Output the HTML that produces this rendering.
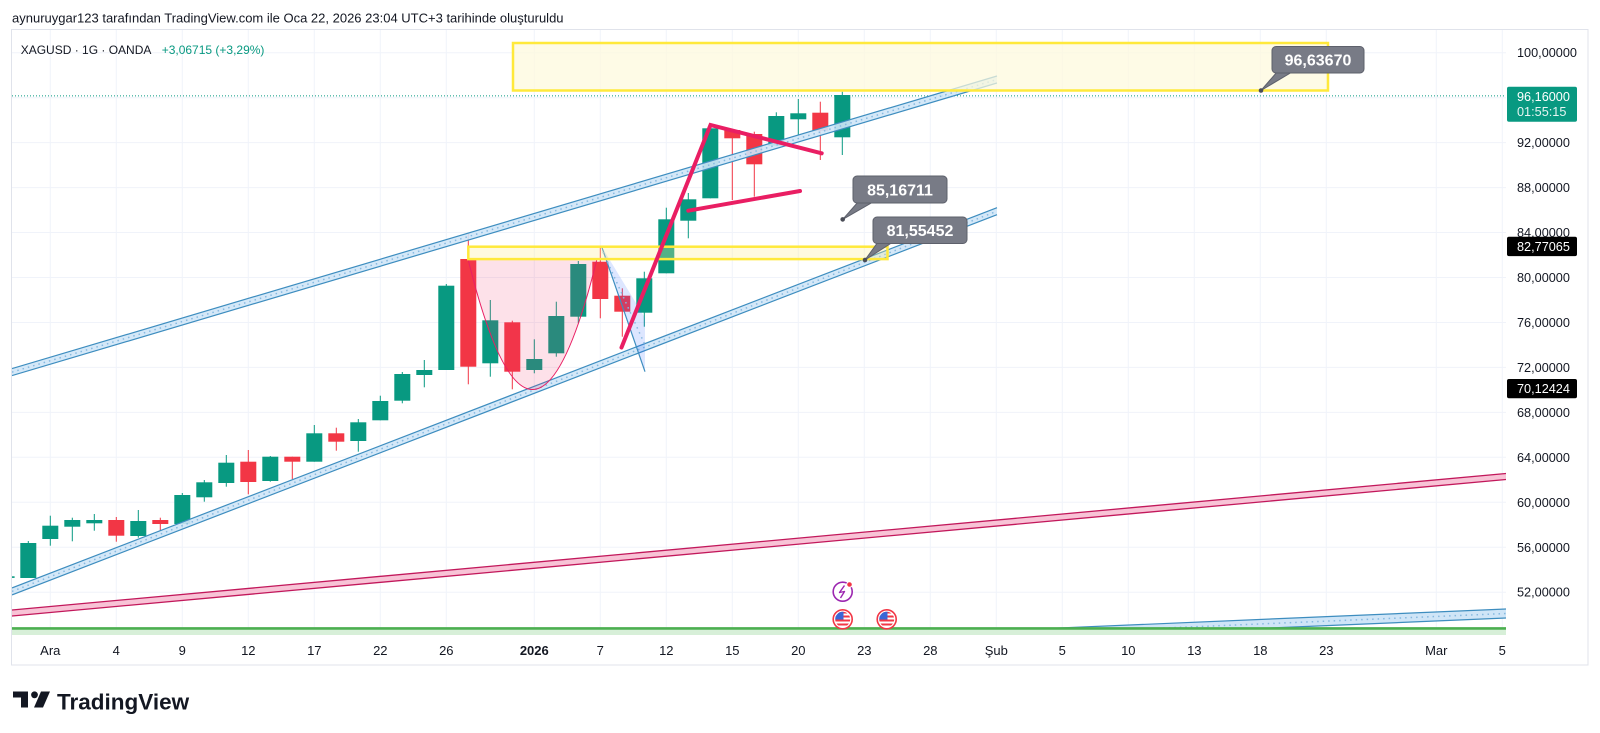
<!DOCTYPE html>
<html><head><meta charset="utf-8"><style>
html,body{margin:0;padding:0;background:#fff;}
svg{display:block;}
text{font-family:"Liberation Sans",sans-serif;}
</style></head><body>
<svg width="1600" height="733" viewBox="0 0 1600 733" xmlns="http://www.w3.org/2000/svg">
<defs>
<clipPath id="plot"><rect x="12" y="30" width="1494" height="605"/></clipPath>
<clipPath id="c1"><circle cx="842.7" cy="619.3" r="7.5"/></clipPath>
<clipPath id="c2"><circle cx="886.7" cy="619.3" r="7.5"/></clipPath>
</defs>
<rect width="1600" height="733" fill="#fff"/>
<text x="12" y="22.7" font-size="13" fill="#131722">aynuruygar123 tarafından TradingView.com ile Oca 22, 2026 23:04 UTC+3 tarihinde oluşturuldu</text>
<!-- frame -->
<rect x="11.5" y="29.5" width="1576.5" height="635.5" fill="none" stroke="#e0e3eb" stroke-width="1"/>
<g clip-path="url(#plot)">
<!-- grid -->
<g stroke="#f0f3fa" stroke-width="1">
<line x1="50.3" y1="30" x2="50.3" y2="635"/><line x1="116.3" y1="30" x2="116.3" y2="635"/><line x1="182.3" y1="30" x2="182.3" y2="635"/><line x1="248.3" y1="30" x2="248.3" y2="635"/><line x1="314.3" y1="30" x2="314.3" y2="635"/><line x1="380.3" y1="30" x2="380.3" y2="635"/><line x1="446.3" y1="30" x2="446.3" y2="635"/><line x1="534.3" y1="30" x2="534.3" y2="635"/><line x1="600.3" y1="30" x2="600.3" y2="635"/><line x1="666.3" y1="30" x2="666.3" y2="635"/><line x1="732.3" y1="30" x2="732.3" y2="635"/><line x1="798.3" y1="30" x2="798.3" y2="635"/><line x1="864.3" y1="30" x2="864.3" y2="635"/><line x1="930.3" y1="30" x2="930.3" y2="635"/><line x1="996.3" y1="30" x2="996.3" y2="635"/><line x1="1062.3" y1="30" x2="1062.3" y2="635"/><line x1="1128.3" y1="30" x2="1128.3" y2="635"/><line x1="1194.3" y1="30" x2="1194.3" y2="635"/><line x1="1260.3" y1="30" x2="1260.3" y2="635"/><line x1="1326.3" y1="30" x2="1326.3" y2="635"/><line x1="1436.3" y1="30" x2="1436.3" y2="635"/><line x1="1502.3" y1="30" x2="1502.3" y2="635"/>
<line x1="12" y1="52.7" x2="1506" y2="52.7"/><line x1="12" y1="97.7" x2="1506" y2="97.7"/><line x1="12" y1="142.6" x2="1506" y2="142.6"/><line x1="12" y1="187.6" x2="1506" y2="187.6"/><line x1="12" y1="232.5" x2="1506" y2="232.5"/><line x1="12" y1="277.5" x2="1506" y2="277.5"/><line x1="12" y1="322.5" x2="1506" y2="322.5"/><line x1="12" y1="367.4" x2="1506" y2="367.4"/><line x1="12" y1="412.4" x2="1506" y2="412.4"/><line x1="12" y1="457.3" x2="1506" y2="457.3"/><line x1="12" y1="502.3" x2="1506" y2="502.3"/><line x1="12" y1="547.3" x2="1506" y2="547.3"/><line x1="12" y1="592.2" x2="1506" y2="592.2"/>
</g>
<!-- bottom right blue band -->
<polygon points="960,632.2 1506,609 1506,618 960,641.2" fill="#cfe5f7"/>
<line x1="960" y1="632.2" x2="1506" y2="609" stroke="#3d8dbf" stroke-width="1.2"/>
<line x1="960" y1="641.2" x2="1506" y2="618" stroke="#3d8dbf" stroke-width="1.2"/>
<line x1="960" y1="636.7" x2="1506" y2="613.5" stroke="#86b9e0" stroke-width="1.5" stroke-dasharray="1.5 4"/>
<!-- green line -->
<rect x="12" y="629" width="1494" height="6" fill="#d7efd8"/>
<line x1="12" y1="628.4" x2="1506" y2="628.4" stroke="#4caf50" stroke-width="2.6"/>
<!-- pink band -->
<polygon points="12,610 1506,473.5 1506,479.5 12,616" fill="#f8c3d6"/>
<line x1="12" y1="610" x2="1506" y2="473.5" stroke="#c2185b" stroke-width="1.3"/>
<line x1="12" y1="616" x2="1506" y2="479.5" stroke="#c2185b" stroke-width="1.3"/>
<!-- candles -->
<rect x="12" y="576.3" width="2.6" height="1.6" fill="#089981"/>
<g fill="#089981">
<rect x="27.8" y="541" width="1" height="37"/><rect x="20.3" y="543" width="16" height="35"/>
<rect x="49.8" y="515.7" width="1" height="30"/><rect x="42.3" y="525.7" width="16" height="13.3"/>
<rect x="71.8" y="517.7" width="1" height="23.6"/><rect x="64.3" y="520" width="16" height="6.7"/>
<rect x="93.8" y="514" width="1" height="16.7"/><rect x="86.3" y="520" width="16" height="3.3"/>
<rect x="137.8" y="510" width="1" height="27.7"/><rect x="130.3" y="521" width="16" height="15"/>
<rect x="181.8" y="493" width="1" height="36"/><rect x="174.3" y="495" width="16" height="29"/>
<rect x="203.8" y="480" width="1" height="21.7"/><rect x="196.3" y="482.3" width="16" height="15"/>
<rect x="225.8" y="455" width="1" height="31.7"/><rect x="218.3" y="462.7" width="16" height="20.3"/>
<rect x="269.8" y="456" width="1" height="25.7"/><rect x="262.3" y="456.7" width="16" height="24.3"/>
<rect x="313.8" y="425" width="1" height="36.7"/><rect x="306.3" y="433.3" width="16" height="28.4"/>
<rect x="357.8" y="419" width="1" height="32.7"/><rect x="350.3" y="422.3" width="16" height="18.7"/>
<rect x="379.8" y="395.7" width="1" height="24.6"/><rect x="372.3" y="401" width="16" height="19.3"/>
<rect x="401.8" y="372" width="1" height="31.3"/><rect x="394.3" y="374" width="16" height="26.7"/>
<rect x="423.8" y="360" width="1" height="27.3"/><rect x="416.3" y="370" width="16" height="5"/>
<rect x="445.8" y="284" width="1" height="86"/><rect x="438.3" y="285.7" width="16" height="84.3"/>
<rect x="489.8" y="300" width="1" height="76.7"/><rect x="482.3" y="320.3" width="16" height="43"/>
<rect x="533.8" y="339.3" width="1" height="34"/><rect x="526.3" y="359" width="16" height="11"/>
<rect x="555.8" y="301.7" width="1" height="55"/><rect x="548.3" y="316" width="16" height="37.3"/>
<rect x="577.8" y="261" width="1" height="62.3"/><rect x="570.3" y="264" width="16" height="52.7"/>
<rect x="643.8" y="271.7" width="1" height="55"/><rect x="636.3" y="278.3" width="16" height="34.4"/>
<rect x="665.8" y="207.7" width="1" height="65.6"/><rect x="658.3" y="219.3" width="16" height="54"/>
<rect x="687.8" y="193" width="1" height="45.3"/><rect x="680.3" y="199.3" width="16" height="21.4"/>
<rect x="709.8" y="126.7" width="1" height="71.6"/><rect x="702.3" y="128.3" width="16" height="70"/>
<rect x="775.8" y="112.3" width="1" height="33.4"/><rect x="768.3" y="116" width="16" height="29.7"/>
<rect x="797.8" y="99" width="1" height="36"/><rect x="790.3" y="113.3" width="16" height="6"/>
<rect x="841.8" y="91.7" width="1" height="63.3"/><rect x="834.3" y="95" width="16" height="42.3"/>
</g>
<g fill="#f23645">
<rect x="115.8" y="517" width="1" height="24.7"/><rect x="108.3" y="520" width="16" height="15.7"/>
<rect x="159.8" y="517.7" width="1" height="13"/><rect x="152.3" y="520" width="16" height="4"/>
<rect x="247.8" y="450" width="1" height="44.3"/><rect x="240.3" y="461.7" width="16" height="20.3"/>
<rect x="291.8" y="456.7" width="1" height="22.3"/><rect x="284.3" y="456.7" width="16" height="5"/>
<rect x="335.8" y="427.7" width="1" height="23"/><rect x="328.3" y="433.3" width="16" height="8.4"/>
<rect x="467.8" y="233.3" width="1" height="151"/><rect x="460.3" y="259" width="16" height="107.7"/>
<rect x="511.8" y="320.7" width="1" height="68.6"/><rect x="504.3" y="322.3" width="16" height="49.4"/>
<rect x="599.8" y="246.7" width="1" height="71.6"/><rect x="592.3" y="261.7" width="16" height="37.3"/>
<rect x="621.8" y="288.3" width="1" height="48.4"/><rect x="614.3" y="295.7" width="16" height="16"/>
<rect x="731.8" y="130" width="1" height="70"/><rect x="724.3" y="130" width="16" height="8.3"/>
<rect x="753.8" y="131.7" width="1" height="65"/><rect x="746.3" y="134" width="16" height="30.3"/>
<rect x="819.8" y="101.7" width="1" height="58.3"/><rect x="812.3" y="112.7" width="16" height="18"/>
</g>
<!-- current price line -->
<line x1="12" y1="95.9" x2="1506" y2="95.9" stroke="#089981" stroke-width="1" stroke-dasharray="1 2"/>
<!-- upper channel band -->
<polygon points="12,368.6 997,76 997,83 12,375.6" fill="#cfe5f7" fill-opacity="0.9"/>
<line x1="12" y1="368.6" x2="997" y2="76" stroke="#3d8dbf" stroke-width="1.2"/>
<line x1="12" y1="375.6" x2="997" y2="83" stroke="#3d8dbf" stroke-width="1.2"/>
<line x1="12" y1="372.1" x2="997" y2="79.5" stroke="#86b9e0" stroke-width="1.5" stroke-dasharray="1.5 4"/>
<!-- lower channel band -->
<polygon points="12,587.9 997,207.7 997,214.7 12,594.9" fill="#cfe5f7" fill-opacity="0.9"/>
<line x1="12" y1="587.9" x2="997" y2="207.7" stroke="#3d8dbf" stroke-width="1.2"/>
<line x1="12" y1="594.9" x2="997" y2="214.7" stroke="#3d8dbf" stroke-width="1.2"/>
<line x1="12" y1="591.4" x2="997" y2="211.2" stroke="#86b9e0" stroke-width="1.5" stroke-dasharray="1.5 4"/>
<!-- cup -->
<path d="M468,259 Q532.5,520 597,259 Z" fill="rgba(242,54,110,0.15)"/>
<path d="M468,259 Q532.5,520 597,259" fill="none" stroke="#e91e63" stroke-width="1"/>
<!-- blue flag -->
<polygon points="601.7,246.7 645,371.7 645,318" fill="rgba(41,98,255,0.16)"/>
<line x1="601.7" y1="246.7" x2="645" y2="371.7" stroke="#3d8dbf" stroke-width="1.2"/>
<line x1="603" y1="252" x2="645" y2="345" stroke="#86b9e0" stroke-width="1.5" stroke-dasharray="1.5 4"/>
<!-- yellow boxes -->
<rect x="468.3" y="246.7" width="419.2" height="12.4" fill="rgba(255,240,150,0.3)" stroke="#ffe93b" stroke-width="2.5"/>
<rect x="513" y="43" width="815" height="47.5" fill="rgba(254,250,220,0.72)" stroke="#ffe93b" stroke-width="2.5"/>
<!-- pink pattern lines -->
<g stroke="#e91e63" stroke-width="4" stroke-linecap="round" fill="none">
<polyline points="621.5,347.5 710.5,125 821.7,153.3"/>
<line x1="688.3" y1="210.7" x2="800" y2="191"/>
</g>
<!-- callouts -->
<g fill="#787b86" stroke="#5d606b" stroke-width="1">
<polygon points="1277,72 1292,72 1261,90.5"/>
<rect x="1272" y="46.5" width="92" height="26.5" rx="4"/>
<polygon points="858,202 873,202 842.7,219.4"/>
<rect x="853" y="176" width="94" height="27" rx="4"/>
<polygon points="878,242 893,242 865,260"/>
<rect x="873" y="217" width="94" height="26.5" rx="4"/>
</g>
<g fill="#787b86" stroke="none">
<rect x="1276" y="70" width="18" height="2.5"/>
<rect x="857" y="200" width="18" height="2.5"/>
<rect x="877" y="240" width="18" height="2.5"/>
</g>
<g fill="#4a4d57">
<circle cx="1261" cy="90.5" r="2.3"/><circle cx="842.7" cy="219.4" r="2.3"/><circle cx="865" cy="260" r="2.3"/>
</g>
<g fill="#fff" font-size="16" font-weight="bold" text-anchor="middle">
<text x="1318" y="65.5">96,63670</text>
<text x="900" y="195.3">85,16711</text>
<text x="920" y="236">81,55452</text>
</g>
<!-- event icons -->
<circle cx="842.7" cy="591.7" r="9.5" fill="#fff" stroke="#9c27b0" stroke-width="1.6"/>
<polyline points="844.5,585.5 839.5,592.5 844.5,591.5 840.5,598" fill="none" stroke="#9c27b0" stroke-width="1.4" stroke-linejoin="round"/>
<circle cx="849.5" cy="584.5" r="2.8" fill="#f23645" stroke="#fff" stroke-width="1"/>
<circle cx="842.7" cy="619.3" r="9.5" fill="#fff" stroke="#f23645" stroke-width="1.6"/>
<g clip-path="url(#c1)">
<rect x="835" y="611.5" width="16" height="16" fill="#fff"/>
<rect x="835" y="611.5" width="16" height="2" fill="#f23645"/><rect x="835" y="615.5" width="16" height="2" fill="#f23645"/><rect x="835" y="619.5" width="16" height="2" fill="#f23645"/><rect x="835" y="623.5" width="16" height="2" fill="#f23645"/>
<rect x="835" y="611.5" width="8.5" height="8" fill="#3a66d6"/>
</g>
<circle cx="886.7" cy="619.3" r="9.5" fill="#fff" stroke="#f23645" stroke-width="1.6"/>
<g clip-path="url(#c2)">
<rect x="879" y="611.5" width="16" height="16" fill="#fff"/>
<rect x="879" y="611.5" width="16" height="2" fill="#f23645"/><rect x="879" y="615.5" width="16" height="2" fill="#f23645"/><rect x="879" y="619.5" width="16" height="2" fill="#f23645"/><rect x="879" y="623.5" width="16" height="2" fill="#f23645"/>
<rect x="879" y="611.5" width="8.5" height="8" fill="#3a66d6"/>
</g>
</g>
<!-- price axis -->
<g font-size="12.7" fill="#131722">
<text x="1517" y="57.2">100,00000</text>
<text x="1517" y="147.1">92,00000</text>
<text x="1517" y="192.1">88,00000</text>
<text x="1517" y="237">84,00000</text>
<text x="1517" y="282">80,00000</text>
<text x="1517" y="327">76,00000</text>
<text x="1517" y="371.9">72,00000</text>
<text x="1517" y="416.9">68,00000</text>
<text x="1517" y="461.8">64,00000</text>
<text x="1517" y="506.8">60,00000</text>
<text x="1517" y="551.8">56,00000</text>
<text x="1517" y="596.7">52,00000</text>
</g>
<rect x="1507" y="86.7" width="70" height="35" rx="2" fill="#089981"/>
<text x="1517" y="101" font-size="12.7" fill="#fff">96,16000</text>
<text x="1517" y="116" font-size="12.7" fill="#e6f5f2">01:55:15</text>
<rect x="1507" y="236.8" width="70" height="19.3" rx="2" fill="#000"/>
<text x="1517" y="251" font-size="12.7" fill="#fff">82,77065</text>
<rect x="1507" y="379" width="70" height="19.3" rx="2" fill="#000"/>
<text x="1517" y="393.2" font-size="12.7" fill="#fff">70,12424</text>
<!-- time axis -->
<g font-size="13" fill="#131722" text-anchor="middle">
<text x="50.3" y="655.2">Ara</text><text x="116.3" y="655.2">4</text><text x="182.3" y="655.2">9</text><text x="248.3" y="655.2">12</text><text x="314.3" y="655.2">17</text><text x="380.3" y="655.2">22</text><text x="446.3" y="655.2">26</text><text x="534.3" y="655.2" font-weight="bold">2026</text><text x="600.3" y="655.2">7</text><text x="666.3" y="655.2">12</text><text x="732.3" y="655.2">15</text><text x="798.3" y="655.2">20</text><text x="864.3" y="655.2">23</text><text x="930.3" y="655.2">28</text><text x="996.3" y="655.2">Şub</text><text x="1062.3" y="655.2">5</text><text x="1128.3" y="655.2">10</text><text x="1194.3" y="655.2">13</text><text x="1260.3" y="655.2">18</text><text x="1326.3" y="655.2">23</text><text x="1436.3" y="655.2">Mar</text><text x="1502.3" y="655.2">5</text>
</g>
<!-- header symbol -->
<text x="20.7" y="53.8" font-size="12" fill="#131722">XAGUSD · 1G · OANDA</text>
<text x="161.7" y="53.8" font-size="12" fill="#089981">+3,06715 (+3,29%)</text>
<!-- logo -->
<g fill="#131722">
<rect x="13" y="691.5" width="15" height="6"/>
<rect x="21" y="691.5" width="7" height="16"/>
<circle cx="34.5" cy="694.8" r="3.4"/>
<polygon points="41,691.5 50,691.5 43,707.5 34,707.5"/>
</g>
<text x="57" y="709.5" font-size="22.5" font-weight="bold" fill="#131722">TradingView</text>
</svg>
</body></html>
